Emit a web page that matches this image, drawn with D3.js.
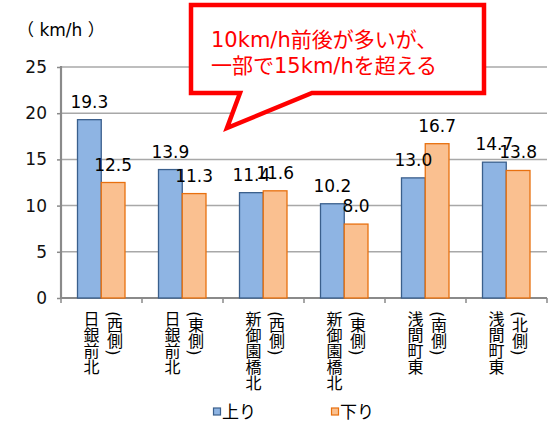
<!DOCTYPE html>
<html>
<head>
<meta charset="utf-8">
<script src="https://cdn.jsdelivr.net/npm/d3@7"></script>
<style>
	body { margin: 0; background: #fff; }
	svg { display: block; }
	text { font-family: "DejaVu Sans", "Noto Sans CJK JP", sans-serif; fill: #000; }
</style>
</head>
<body>
<svg id="chart" width="548" height="422"></svg>
<script>
var categoryNames = ["日銀前北", "日銀前北", "新御園橋北", "新御園橋北", "浅間町東", "浅間町東"];
var categorySides = ["(西側)", "(東側)", "(西側)", "(東側)", "(南側)", "(北側)"];
var seriesNames = ["上り", "下り"];
var upValues = [19.3, 13.9, 11.4, 10.2, 13.0, 14.7];
var downValues = [12.5, 11.3, 11.6, 8.0, 16.7, 13.8];
var yTicks = [0, 5, 10, 15, 20, 25];
var unitLabel = "（ km/h ）";
var calloutLines = ["10km/h前後が多いが、", "一部で15km/hを超える"];

var COLORS = {
	"上り": {fill: "#8EB4E3", stroke: "#3A5F8C"},
	"下り": {fill: "#FAC090", stroke: "#E8700F"}
};
var AXIS_COLOR = "#8A8A8A";
var GRID_COLOR = "#A8A8A8";

var svg = d3.select("#chart");

var x0 = d3.scaleBand()
	.domain(d3.range(categoryNames.length))
	.range([61, 547]);
var x1 = d3.scaleBand()
	.domain(seriesNames)
	.range([16.5, 64]);
var y = d3.scaleLinear()
	.domain([0, 25])
	.range([298, 67]);

var rows = categoryNames.map(function(name, i) {
	return {
		index: i,
		name: name,
		side: categorySides[i],
		values: [
			{series: "上り", value: upValues[i]},
			{series: "下り", value: downValues[i]}
		]
	};
});

function drawGrid(svgGroup){
	svgGroup.append("g")
		.selectAll("line")
		.data(yTicks.slice(1))
		.enter()
		.append("line")
		.attr("x1", x0.range()[0])
		.attr("x2", x0.range()[1])
		.attr("y1", function(d) { return y(d); })
		.attr("y2", function(d) { return y(d); })
		.style("stroke", GRID_COLOR)
		.style("stroke-width", 1.5);
}

function drawAxes(svgGroup){
	// y axis with ticks pointing out
	var yAxis = d3.axisLeft(y)
		.tickValues(yTicks)
		.tickSize(4)
		.tickPadding(10)
		.tickFormat(d3.format("d"));
	var yg = svgGroup.append("g")
		.attr("transform", "translate(" + x0.range()[0] + ",0)")
		.call(yAxis);
	yg.select(".domain").remove();
	yg.selectAll("line").style("stroke", AXIS_COLOR).style("stroke-width", 1.5);
	yg.selectAll("text")
		.style("font-family", "\"DejaVu Sans\", sans-serif")
		.style("font-size", "17px")
		.style("fill", "#111");
	svgGroup.append("line")
		.attr("x1", x0.range()[0]).attr("x2", x0.range()[0])
		.attr("y1", y(25) - 1).attr("y2", y(0) + 1)
		.style("stroke", AXIS_COLOR)
		.style("stroke-width", 2.2);

	// x axis, ticks at the band edges
	var edges = d3.range(categoryNames.length + 1).map(function(i) {
		return x0.range()[0] + i * x0.bandwidth();
	});
	svgGroup.append("line")
		.attr("x1", x0.range()[0]).attr("x2", x0.range()[1])
		.attr("y1", y(0)).attr("y2", y(0))
		.style("stroke", AXIS_COLOR)
		.style("stroke-width", 2.2);
	svgGroup.append("g")
		.selectAll("line")
		.data(edges)
		.enter()
		.append("line")
		.attr("x1", function(d) { return d; })
		.attr("x2", function(d) { return d; })
		.attr("y1", y(0))
		.attr("y2", y(0) + 5)
		.style("stroke", AXIS_COLOR)
		.style("stroke-width", 1.5);

	// unit label
	svgGroup.append("text")
		.attr("x", 17)
		.attr("y", 36)
		.attr("xml:space", "preserve")
		.style("white-space", "pre")
		.style("font-size", "17px")
		.text(unitLabel);
}

function drawBars(svgGroup){
	var groups = svgGroup.selectAll(".category")
		.data(rows)
		.enter()
		.append("g")
		.classed("category", true)
		.attr("transform", function(d) {
			return "translate(" + x0(d.index) + ",0)";
		});

	groups.selectAll("rect")
		.data(function(d) { return d.values; })
		.enter()
		.append("rect")
		.attr("x", function(d) { return x1(d.series); })
		.attr("y", function(d) { return y(d.value); })
		.attr("width", x1.bandwidth())
		.attr("height", function(d) { return y(0) - y(d.value); })
		.style("fill", function(d) { return COLORS[d.series].fill; })
		.style("stroke", function(d) { return COLORS[d.series].stroke; })
		.style("stroke-width", 1.3);

	// value labels sit above the bar, they overlap like the original
	groups.selectAll(".value-label")
		.data(function(d) { return d.values; })
		.enter()
		.append("text")
		.classed("value-label", true)
		.attr("x", function(d) { return x1(d.series) + x1.bandwidth() / 2; })
		.attr("y", function(d) { return y(d.value) - 12; })
		.attr("text-anchor", "middle")
		.style("font-size", "17px")
		.text(function(d) { return d3.format(".1f")(d.value); });

	// vertical category names, two columns: name then side
	groups.append("text")
		.attr("x", x0.bandwidth() / 2 - 11.5)
		.attr("y", 311)
		.style("writing-mode", "vertical-rl")
		.style("font-size", "16px")
		.text(function(d) { return d.name; });
	groups.append("text")
		.attr("x", x0.bandwidth() / 2 + 12)
		.attr("y", 311)
		.style("writing-mode", "vertical-rl")
		.style("font-size", "16px")
		.text(function(d) { return d.side; });
}

function drawLegend(svgGroup){
	var legendX = [213, 331];
	var items = svgGroup.selectAll(".legend-item")
		.data(seriesNames)
		.enter()
		.append("g")
		.classed("legend-item", true)
		.attr("transform", function(d, i) {
			return "translate(" + legendX[i] + "," + 412 + ")";
		});
	items.append("rect")
		.attr("x", 0.5)
		.attr("y", -4)
		.attr("width", 7)
		.attr("height", 7)
		.style("fill", function(d) { return COLORS[d].fill; })
		.style("stroke", function(d) { return COLORS[d].stroke; })
		.style("stroke-width", 1.2);
	items.append("text")
		.attr("x", 9)
		.attr("y", 6)
		.style("font-size", "17px")
		.text(function(d) { return d; });
}

function drawCallout(svgGroup){
	// speech bubble with the pointer down-left
	var pts = [[191, 5], [484, 5], [484, 93], [312, 93], [227, 128], [240, 93], [191, 93]];
	svgGroup.append("path")
		.attr("d", d3.line()(pts) + "Z")
		.style("fill", "#fff")
		.style("stroke", "#FF0000")
		.style("stroke-width", 4.5)
		.style("stroke-linejoin", "miter");
	svgGroup.selectAll(".callout-text")
		.data(calloutLines)
		.enter()
		.append("text")
		.classed("callout-text", true)
		.attr("x", 211)
		.attr("y", function(d, i) { return 47 + i * 26; })
		.style("font-size", "21px")
		.style("fill", "#FF0000")
		.text(function(d) { return d; });
}

drawGrid(svg);
drawAxes(svg);
drawBars(svg);
drawLegend(svg);
drawCallout(svg);
</script>
</body>
</html>
